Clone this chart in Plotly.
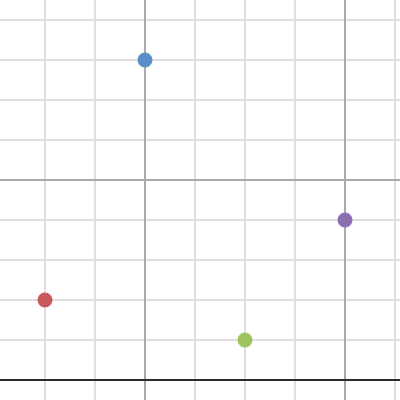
import plotly.graph_objects as go

# point data
x_vals = [2, 1, 3, 4]
y_vals = [8, 2, 1, 4]
point_colors = ["#5b8fcb", "#c85b5b", "#9dc35b", "#8a70b2"]

fig = go.Figure()
fig.add_trace(go.Scatter(
    x=x_vals, y=y_vals, mode="markers",
    marker=dict(size=15, color=point_colors, line=dict(width=0)),
    showlegend=False, hoverinfo="skip"))

fig.update_layout(
    width=400, height=400,
    margin=dict(l=0, r=0, t=0, b=0),
    paper_bgcolor="white", plot_bgcolor="white",
    xaxis=dict(
        range=[0.55, 4.55], tick0=0, dtick=2,
        showgrid=True, gridcolor="#a9a9a9", gridwidth=1.5,
        minor=dict(dtick=0.5, tick0=0, showgrid=True, gridcolor="#e0e0e0", gridwidth=1.5),
        zeroline=False, showticklabels=False, ticks="",
    ),
    yaxis=dict(
        range=[-0.5, 9.5], tick0=0, dtick=5,
        showgrid=True, gridcolor="#a9a9a9", gridwidth=1.5,
        minor=dict(dtick=1, tick0=0, showgrid=True, gridcolor="#e0e0e0", gridwidth=1.5),
        zeroline=True, zerolinecolor="#2b2b2b", zerolinewidth=2,
        showticklabels=False, ticks="",
    ),
)

# page body has a default margin; drop it so the chart fills the window
fig.write_html("out.html", config={"displayModeBar": False},
               post_script="document.body.style.margin='0';")
